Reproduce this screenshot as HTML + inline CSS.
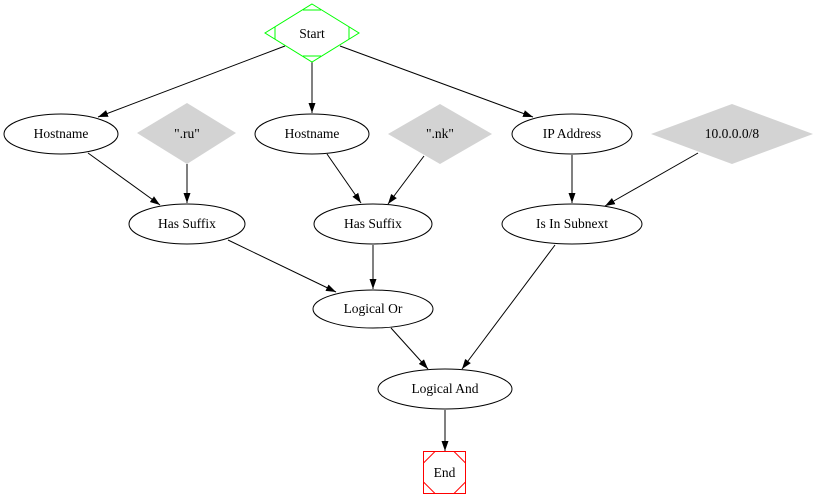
<!DOCTYPE html>
<html><head><meta charset="utf-8"><style>
html,body{margin:0;padding:0;background:#fff;}
svg{display:block;}
text{font-family:"Liberation Serif",serif;font-size:13.5px;text-anchor:middle;fill:#000;}
</style></head><body>
<svg width="816" height="498" viewBox="0 0 816 498" xmlns="http://www.w3.org/2000/svg">
<defs><marker id="a" viewBox="0 0 10 10" refX="10" refY="5" markerWidth="10" markerHeight="10" markerUnits="userSpaceOnUse" orient="auto"><path d="M0,1.5 L10,5 L0,8.5 z" fill="#000"/></marker></defs>
<g stroke="#000" stroke-width="1" fill="none" marker-end="url(#a)">
<line x1="285" y1="46" x2="98" y2="117"/>
<line x1="312" y1="62" x2="312" y2="113"/>
<line x1="340" y1="46" x2="533" y2="117"/>
<line x1="88" y1="153" x2="160" y2="205"/>
<line x1="187" y1="164" x2="187" y2="203"/>
<line x1="327" y1="154" x2="361" y2="203"/>
<line x1="424" y1="156" x2="388" y2="204"/>
<line x1="572" y1="155" x2="572" y2="203"/>
<line x1="698" y1="153" x2="605" y2="206"/>
<line x1="228" y1="240" x2="336" y2="292"/>
<line x1="373" y1="245" x2="373" y2="289"/>
<line x1="555" y1="245" x2="462" y2="369"/>
<line x1="391" y1="328" x2="428" y2="369"/>
<line x1="445" y1="410" x2="445" y2="451"/>
</g>
<!-- start -->
<g stroke="#00ff00" fill="none">
<polygon points="312,4 359,33 312,62 265,33"/>
<line x1="303" y1="10" x2="321" y2="10"/>
<line x1="303" y1="56" x2="321" y2="56"/>
<line x1="275" y1="27" x2="275" y2="39"/>
<line x1="349" y1="27" x2="349" y2="39"/>
</g>
<text x="312" y="38">Start</text>
<!-- diamonds -->
<g fill="#d3d3d3" stroke="none">
<polygon points="187,103 236,133 187,164 137,133"/>
<polygon points="440,104 492,134 440,164 388,134"/>
<polygon points="732,104 813,134 732,164 651,134"/>
</g>
<text x="187" y="138">".ru"</text>
<text x="440" y="138">".nk"</text>
<text x="732" y="138">10.0.0.0/8</text>
<g fill="none" stroke="#000">
<ellipse cx="61" cy="134" rx="57" ry="20"/>
<ellipse cx="312" cy="134" rx="57" ry="20"/>
<ellipse cx="572" cy="134" rx="60" ry="20"/>
<ellipse cx="187" cy="224" rx="58" ry="20"/>
<ellipse cx="373" cy="224" rx="59" ry="20"/>
<ellipse cx="572" cy="224" rx="70" ry="20"/>
<ellipse cx="373" cy="309" rx="60" ry="19"/>
<ellipse cx="445" cy="389" rx="67" ry="20"/>
</g>
<text x="61" y="138">Hostname</text>
<text x="312" y="138">Hostname</text>
<text x="572" y="138">IP Address</text>
<text x="187" y="228">Has Suffix</text>
<text x="373" y="228">Has Suffix</text>
<text x="572" y="228">Is In Subnext</text>
<text x="373" y="313">Logical Or</text>
<text x="445" y="393">Logical And</text>
<!-- end -->
<g stroke="#ff0000" fill="none">
<rect x="423.5" y="451.5" width="42" height="42"/>
<line x1="423.5" y1="463" x2="435" y2="451.5"/>
<line x1="454" y1="451.5" x2="465.5" y2="463"/>
<line x1="423.5" y1="482" x2="435" y2="493.5"/>
<line x1="454" y1="493.5" x2="465.5" y2="482"/>
</g>
<text x="444.5" y="477">End</text>
</svg>
</body></html>
